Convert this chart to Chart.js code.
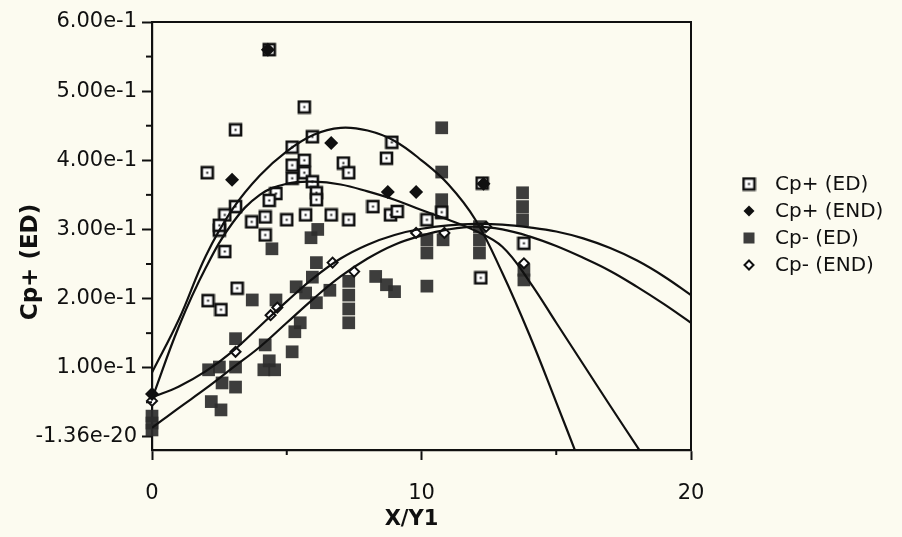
<!DOCTYPE html>
<html>
<head>
<meta charset="utf-8">
<script src="https://cdn.jsdelivr.net/npm/chart.js@4/dist/chart.umd.min.js"></script>
<style>
  html, body { margin: 0; padding: 0; background: #fcfbf0; }
  #wrap { width: 902px; height: 537px; }
  canvas { display: block; }
</style>
</head>
<body>
<div id="wrap"><canvas id="chart" width="902" height="537" style="width:902px;height:537px"></canvas></div>
<script>
// ---- measured points ----
const cpPlusEdX = [4.35, 5.65, 3.10, 2.05, 5.95, 8.70, 8.90, 5.20, 5.20, 5.20,
                   5.65, 5.65, 5.95, 6.10, 6.10, 7.10, 7.30, 8.20, 8.85, 9.10,
                   7.30, 6.65, 5.70, 5.00, 4.20, 3.70, 4.60, 4.35, 3.10, 2.70,
                   4.20, 2.50, 2.70, 3.16, 2.08, 2.56, 10.20, 10.75, 12.20, 12.25,
                   13.80, 2.50];
const cpPlusEdY = [0.560, 0.477, 0.444, 0.382, 0.434, 0.403, 0.426, 0.419, 0.393, 0.374,
                   0.400, 0.382, 0.369, 0.353, 0.343, 0.396, 0.382, 0.333, 0.321, 0.326,
                   0.314, 0.321, 0.321, 0.314, 0.318, 0.311, 0.352, 0.342, 0.333, 0.321,
                   0.292, 0.299, 0.268, 0.215, 0.197, 0.184, 0.314, 0.325, 0.230, 0.367,
                   0.280, 0.306];

const cpPlusEndX = [0, 4.30, 2.97, 6.65, 8.75, 9.80, 12.30];
const cpPlusEndY = [0.062, 0.560, 0.372, 0.425, 0.354, 0.354, 0.366];

const cpMinusEdX = [0, 0, 0, 2.10, 2.50, 3.10, 2.60, 3.10, 2.20, 2.56, 3.10,
                    4.20, 3.72, 4.60, 4.15, 4.55, 4.35, 5.20,
                    5.35, 5.70, 6.10, 5.95, 6.60, 6.10, 5.50, 5.30,
                    7.30, 7.30, 7.30, 7.30, 8.30, 8.70, 9.00,
                    10.20, 10.20, 10.20, 10.75, 10.75, 10.75, 10.75, 10.80,
                    12.15, 12.15, 12.15, 13.75, 13.75, 13.75, 13.80, 13.80,
                    5.90, 6.15, 4.45];
const cpMinusEdY = [0.030, 0.020, 0.010, 0.097, 0.101, 0.101, 0.078, 0.072, 0.051, 0.039, 0.142,
                    0.133, 0.198, 0.198, 0.097, 0.097, 0.110, 0.123,
                    0.217, 0.208, 0.252, 0.231, 0.212, 0.194, 0.165, 0.152,
                    0.225, 0.205, 0.185, 0.165, 0.232, 0.220, 0.210,
                    0.218, 0.266, 0.285, 0.447, 0.383, 0.343, 0.324, 0.285,
                    0.304, 0.285, 0.266, 0.353, 0.333, 0.314, 0.241, 0.227,
                    0.288, 0.300, 0.272];

const cpMinusEndX = [0, 3.10, 4.40, 4.65, 6.70, 7.50, 9.80, 10.85, 12.40, 13.80];
const cpMinusEndY = [0.052, 0.123, 0.176, 0.187, 0.252, 0.239, 0.295, 0.295, 0.304, 0.251];

// ---- fitted curves ----
const fitAX = [0, 1, 2, 3, 4, 5, 6, 7, 8, 9, 10, 11, 12, 13, 14, 15, 15.7];
const fitAY = [0.093, 0.170, 0.262, 0.330, 0.378, 0.413, 0.437, 0.447, 0.443, 0.428,
               0.400, 0.365, 0.314, 0.237, 0.148, 0.050, -0.020];
const fitBX = [0, 1, 2, 3, 4, 5, 6, 7, 8, 9, 10, 11, 12, 13, 14, 15, 16, 17, 18.1];
const fitBY = [0.055, 0.160, 0.245, 0.310, 0.350, 0.366, 0.369, 0.365, 0.355, 0.343,
               0.328, 0.314, 0.298, 0.275, 0.225, 0.165, 0.105, 0.045, -0.020];
const fitCX = [0, 1, 2, 3, 4, 5, 6, 7, 8, 9, 10, 11, 12, 13, 14, 15, 16, 17, 18, 19, 20];
const fitCY = [0.057, 0.073, 0.095, 0.124, 0.160, 0.196, 0.230, 0.258, 0.278, 0.292,
               0.301, 0.306, 0.308, 0.307, 0.303, 0.297, 0.287, 0.273, 0.255, 0.232, 0.205];
const fitDX = [0, 1, 2, 3, 4, 5, 6, 7, 8, 9, 10, 11, 12, 13, 14, 15, 16, 17, 18, 19, 20];
const fitDY = [0.013, 0.042, 0.070, 0.100, 0.130, 0.165, 0.200, 0.232, 0.258, 0.278,
               0.291, 0.300, 0.304, 0.300, 0.290, 0.276, 0.259, 0.240, 0.217, 0.192, 0.165];

// ---- axis ticks ----
const xTickValues = [0, 10, 20];
const xTickLabels = ['0', '10', '20'];
const yTickValues = [0, 0.1, 0.2, 0.3, 0.4, 0.5, 0.6];
const yTickLabels = ['-1.36e-20', '1.00e-1', '2.00e-1', '3.00e-1', '4.00e-1', '5.00e-1', '6.00e-1'];

const seriesNames = ['Cp+ (ED)', 'Cp+ (END)', 'Cp- (ED)', 'Cp- (END)'];

const INK = '#101010';
const BG = '#fcfbf0';
const pairs = (xs, ys) => xs.map((x, i) => ({ x, y: ys[i] }));

// open square with a centre dot
function squareDot() {
  const c = document.createElement('canvas');
  c.width = 15; c.height = 15;
  const g = c.getContext('2d');
  g.fillStyle = '#ffffff';
  g.fillRect(2, 2, 11, 11);
  g.strokeStyle = INK;
  g.lineWidth = 2.6;
  g.strokeRect(2, 2, 11, 11);
  g.fillStyle = INK;
  g.fillRect(6.5, 6.5, 2, 2);
  return c;
}
const sqDot = squareDot();

const scatterBase = { type: 'scatter', showLine: false, clip: false, showInLegend: true };
const curveBase = {
  type: 'line', showLine: true, pointRadius: 0, borderColor: INK, borderWidth: 2.2,
  tension: 0.4, fill: false, showInLegend: false
};

const datasets = [
  Object.assign({}, curveBase, { label: 'fit A', data: pairs(fitAX, fitAY), order: 1 }),
  Object.assign({}, curveBase, { label: 'fit B', data: pairs(fitBX, fitBY), order: 1 }),
  Object.assign({}, curveBase, { label: 'fit C', data: pairs(fitCX, fitCY), order: 1 }),
  Object.assign({}, curveBase, { label: 'fit D', data: pairs(fitDX, fitDY), order: 1 }),
  Object.assign({}, scatterBase, {
    label: seriesNames[0], data: pairs(cpPlusEdX, cpPlusEdY), order: 3,
    pointStyle: sqDot, pointRadius: 7
  }),
  Object.assign({}, scatterBase, {
    label: seriesNames[1], data: pairs(cpPlusEndX, cpPlusEndY), order: 2,
    pointStyle: 'rectRot', pointRadius: 7, backgroundColor: INK, borderColor: INK, borderWidth: 0
  }),
  Object.assign({}, scatterBase, {
    label: seriesNames[2], data: pairs(cpMinusEdX, cpMinusEdY), order: 4,
    pointStyle: 'rect', pointRadius: 9, backgroundColor: 'rgba(44,44,44,0.92)', borderWidth: 0
  }),
  Object.assign({}, scatterBase, {
    label: seriesNames[3], data: pairs(cpMinusEndX, cpMinusEndY), order: 2,
    pointStyle: 'rectRot', pointRadius: 5, backgroundColor: '#ffffff', borderColor: INK, borderWidth: 2
  })
];

const tickFont = { family: 'DejaVu Sans', size: 21 };

// frame, minor ticks, axis titles and the side legend
const decorations = {
  id: 'decorations',
  beforeDraw(chart) {
    const ctx = chart.ctx;
    ctx.save();
    ctx.fillStyle = BG;
    ctx.fillRect(0, 0, chart.width, chart.height);
    ctx.restore();
  },
  afterDraw(chart) {
    const ctx = chart.ctx;
    const xs = chart.scales.x, ys = chart.scales.y;
    const area = chart.chartArea;
    ctx.save();
    ctx.strokeStyle = INK;
    ctx.lineWidth = 2;
    // minor ticks halfway between labelled ticks
    for (let i = 0; i < xTickValues.length - 1; i++) {
      const px = xs.getPixelForValue((xTickValues[i] + xTickValues[i + 1]) / 2);
      ctx.beginPath(); ctx.moveTo(px, area.bottom); ctx.lineTo(px, area.bottom + 5); ctx.stroke();
    }
    for (let i = 0; i < yTickValues.length - 1; i++) {
      const py = ys.getPixelForValue((yTickValues[i] + yTickValues[i + 1]) / 2);
      ctx.beginPath(); ctx.moveTo(area.left - 6, py); ctx.lineTo(area.left, py); ctx.stroke();
    }
    // axis titles
    ctx.fillStyle = INK;
    ctx.font = 'bold 21px "DejaVu Sans"';
    ctx.textAlign = 'center';
    ctx.textBaseline = 'middle';
    ctx.fillText('X/Y1', area.left + (area.right - area.left) / 2 - 10, 520);
    ctx.save();
    ctx.translate(31, 262);
    ctx.rotate(-Math.PI / 2);
    ctx.font = 'bold 23px "DejaVu Sans"';
    ctx.fillText('Cp+ (ED)', 0, 0);
    ctx.restore();
    // legend
    const lx = 749, tx = 775, ly0 = 184, dy = 27;
    ctx.font = '20px "DejaVu Sans"';
    ctx.textAlign = 'left';
    let row = 0;
    chart.data.datasets.forEach((ds) => {
      if (!ds.showInLegend) return;
      const y = ly0 + row * dy;
      const st = ds.pointStyle;
      if (st instanceof HTMLCanvasElement) {
        ctx.drawImage(st, lx - st.width / 2, y - st.height / 2);
      } else if (st === 'rect') {
        const s = 11;
        ctx.fillStyle = ds.backgroundColor;
        ctx.fillRect(lx - s / 2, y - s / 2, s, s);
      } else if (st === 'rectRot') {
        const r = ds.borderWidth ? 4.5 : 5.5;
        ctx.beginPath();
        ctx.moveTo(lx, y - r); ctx.lineTo(lx + r, y); ctx.lineTo(lx, y + r); ctx.lineTo(lx - r, y);
        ctx.closePath();
        ctx.fillStyle = ds.backgroundColor;
        ctx.fill();
        if (ds.borderWidth) { ctx.lineWidth = ds.borderWidth; ctx.strokeStyle = ds.borderColor; ctx.stroke(); }
      }
      ctx.fillStyle = INK;
      ctx.fillText(ds.label, tx, y + 1);
      row++;
    });
    ctx.restore();
  }
};

const frameAxis = (pos) => ({
  type: 'linear', position: pos, display: true,
  min: pos === 'top' ? 0 : -0.019, max: pos === 'top' ? 20 : 0.6,
  ticks: { display: false }, grid: { display: false, drawTicks: false },
  border: { display: true, color: INK, width: 2 },
  afterFit: (s) => { if (pos === 'top') s.height = 0; else s.width = 0; }
});

new Chart(document.getElementById('chart'), {
  data: { datasets },
  plugins: [decorations],
  options: {
    responsive: false,
    animation: false,
    events: [],
    layout: { padding: { left: 0, top: 22, right: 211, bottom: 0 } },
    plugins: { legend: { display: false }, tooltip: { enabled: false } },
    scales: {
      x: {
        type: 'linear', position: 'bottom', min: 0, max: 20,
        afterBuildTicks: (s) => { s.ticks = xTickValues.map((v) => ({ value: v })); },
        afterFit: (s) => { s.height = 87; },
        ticks: {
          callback: (v) => xTickLabels[xTickValues.indexOf(v)],
          font: tickFont, color: INK, padding: 21, maxRotation: 0, autoSkip: false
        },
        grid: { display: true, drawOnChartArea: false, tickLength: 10, tickWidth: 2, tickColor: INK },
        border: { display: true, color: INK, width: 2.2 }
      },
      y: {
        type: 'linear', position: 'left', min: -0.019, max: 0.6,
        afterBuildTicks: (s) => { s.ticks = yTickValues.map((v) => ({ value: v })); },
        afterFit: (s) => { s.width = 152; },
        ticks: {
          callback: (v) => yTickLabels[yTickValues.indexOf(v)],
          font: tickFont, color: INK, padding: 5, autoSkip: false
        },
        grid: { display: true, drawOnChartArea: false, tickLength: 10, tickWidth: 2, tickColor: INK },
        border: { display: true, color: INK, width: 2.2 }
      },
      xTop: frameAxis('top'),
      yRight: frameAxis('right')
    }
  }
});
</script>
</body>
</html>
